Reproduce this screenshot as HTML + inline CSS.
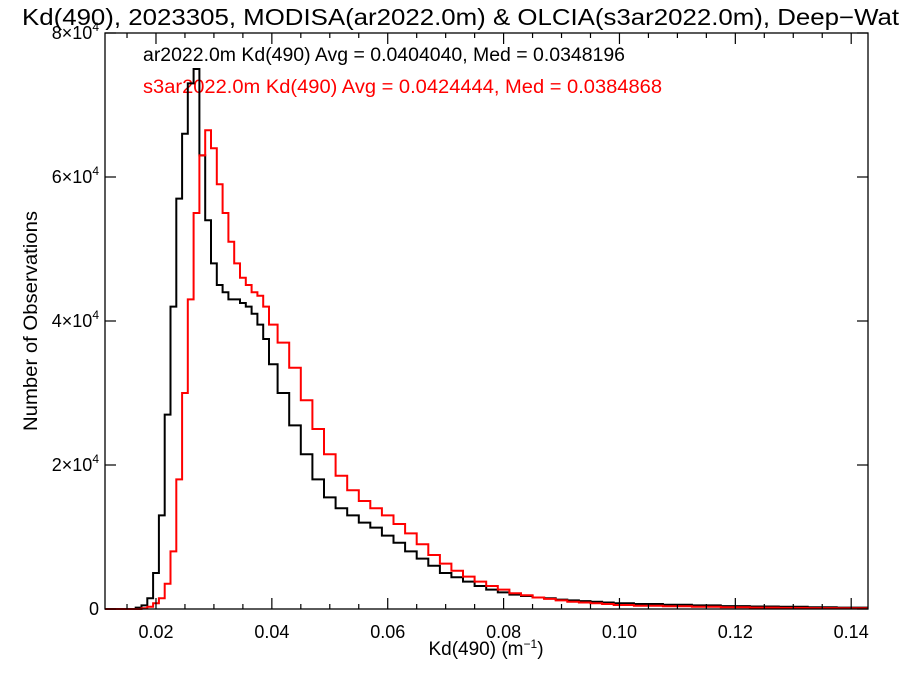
<!DOCTYPE html>
<html><head><meta charset="utf-8">
<style>
html,body{margin:0;padding:0;background:#fff;width:900px;height:675px;overflow:hidden}
svg{display:block;font-family:"Liberation Sans",Arial,sans-serif}
</style></head>
<body>
<svg id="chart" width="900" height="675">
<text x="22" y="25" font-size="23" fill="#000" textLength="900" lengthAdjust="spacingAndGlyphs">Kd(490), 2023305, MODISA(ar2022.0m) &amp; OLCIA(s3ar2022.0m), Deep−Water</text>
<text x="143" y="61" font-size="19" fill="#000" textLength="482" lengthAdjust="spacingAndGlyphs">ar2022.0m Kd(490) Avg = 0.0404040, Med = 0.0348196</text>
<text x="143" y="93" font-size="19" fill="#ff0000" textLength="519" lengthAdjust="spacingAndGlyphs">s3ar2022.0m Kd(490) Avg = 0.0424444, Med = 0.0384868</text>
<text transform="translate(37,321) rotate(-90)" text-anchor="middle" font-size="19" textLength="220" lengthAdjust="spacingAndGlyphs">Number of Observations</text>
<text x="486" y="655" text-anchor="middle" font-size="19">Kd(490) (m<tspan font-size="12" dy="-7">−1</tspan><tspan dy="7">)</tspan></text>
<g id="marks"></g>
<g id="axes"></g>
</svg>
<script>
const binEdges = [0.011,
0.0155,0.0165,0.0175,0.0185,0.0195,0.0205,0.0215,0.0225,0.0235,0.0245,0.0255,0.0265,0.0275,0.0285,0.0295,0.0305,0.0315,0.0325,0.0335,0.0345,0.0355,0.0365,0.0375,0.0385,0.0395,
0.041,0.043,0.045,0.047,0.049,0.051,0.053,0.055,0.057,0.059,0.061,0.063,0.065,0.067,0.069,0.071,0.073,0.075,0.077,0.079,0.081,0.083,0.085,0.087,0.089,0.091,0.093,0.095,0.097,0.099,
0.1025,0.1075,0.1125,0.1175,0.1225,0.1275,0.1325,0.1375,0.145];
const countsModis = [0,
0,0.2,0.5,1.5,5,13,27,42,57,66,73,75,63,54,48,45,44,43,43,42.5,42,41,39.5,37.5,
34,30,25.5,21.5,18,15.5,14,13,12,11.3,10.2,9.2,8,7,6,5,4.4,3.8,3.2,2.7,2.3,2.0,1.8,1.6,1.5,1.3,1.2,1.1,1.0,0.9,
0.8,0.7,0.6,0.5,0.4,0.35,0.3,0.25,0.2];
const countsOlci = [0,
0,0,0.1,0.3,0.8,1.5,3.5,8,18,30,43,55,63,66.5,64,59,55,51,48,46,45,44,43.5,42,
39.5,37,33.5,29,25,21.5,18.5,16.5,15,14,13,11.8,10.5,9,7.5,6.3,5.3,4.5,3.8,3.2,2.7,2.2,1.9,1.6,1.4,1.2,1.0,0.9,0.8,0.7,
0.55,0.45,0.38,0.3,0.25,0.2,0.15,0.12,0.1];
const xTickValues = [0.02,0.04,0.06,0.08,0.10,0.12,0.14];
const xTickLabels = ["0.02","0.04","0.06","0.08","0.10","0.12","0.14"];
const yTickValues = [0,20000,40000,60000,80000];
const yTickMant = ["0","2","4","6","8"];

const L=105,R=868,T=33,B=609;
const XMIN=0.0112,XMAX=0.1429,YMAX=80000;
const xs=v=>L+(v-XMIN)/(XMAX-XMIN)*(R-L);
const ys=v=>B-v/YMAX*(B-T);
const NS="http://www.w3.org/2000/svg";
const marks=document.getElementById('marks'),axes=document.getElementById('axes');

function stepPath(counts){
  let d="";
  for(let i=0;i<counts.length;i++){
    const x0=Math.max(xs(binEdges[i]),L),x1=Math.min(xs(binEdges[i+1]),R);
    if(x0>=R) break;
    const y=ys(counts[i]*1000);
    d+=(i===0?"M":"L")+x0.toFixed(1)+","+y.toFixed(1)+"L"+x1.toFixed(1)+","+y.toFixed(1);
  }
  return d;
}
const pb=document.createElementNS(NS,'path');
pb.setAttribute('d',stepPath(countsModis));pb.setAttribute('fill','none');pb.setAttribute('stroke','#000');pb.setAttribute('stroke-width','2');


marks.appendChild(pb);
const pr=document.createElementNS(NS,'path');
pr.setAttribute('d',stepPath(countsOlci));pr.setAttribute('fill','none');pr.setAttribute('stroke','#ff0000');pr.setAttribute('stroke-width','2');


marks.appendChild(pr);

const frame=document.createElementNS(NS,'rect');
frame.setAttribute('x',L);frame.setAttribute('y',T);frame.setAttribute('width',R-L);frame.setAttribute('height',B-T);
frame.setAttribute('fill','none');frame.setAttribute('stroke','#000');frame.setAttribute('stroke-width','1.3');


axes.appendChild(frame);

function line(x1,y1,x2,y2){
  const l=document.createElementNS(NS,'line');
  l.setAttribute('x1',x1);l.setAttribute('y1',y1);l.setAttribute('x2',x2);l.setAttribute('y2',y2);
  l.setAttribute('stroke','#000');l.setAttribute('stroke-width','1.2');
  
  
  axes.appendChild(l);
}
for(let v=0.015;v<=XMAX;v+=0.005){
  const x=xs(v);if(x<L||x>R)continue;
  const major=Math.abs(v/0.02-Math.round(v/0.02))<1e-6;
  const len=major?11:5;
  line(x,B,x,B-len);line(x,T,x,T+len);
}
xTickValues.forEach((v,i)=>{
  const t=document.createElementNS(NS,'text');
  t.setAttribute('x',xs(v));t.setAttribute('y',B+29);t.setAttribute('text-anchor','middle');t.setAttribute('font-size','18');
  t.textContent=xTickLabels[i];
  
  
  axes.appendChild(t);
});
yTickValues.forEach((v,i)=>{
  const y=ys(v);
  line(L,y,L+11,y);line(R,y,R-11,y);
  const t=document.createElementNS(NS,'text');
  t.setAttribute('x',99);t.setAttribute('y',y+6);t.setAttribute('text-anchor','end');t.setAttribute('font-size','18');
  if(v===0){t.textContent='0';}
  else{
    t.textContent=yTickMant[i]+'×10';
    const s=document.createElementNS(NS,'tspan');
    s.setAttribute('font-size','12');s.setAttribute('dy','-8');s.textContent='4';
    t.appendChild(s);
  }
  
  
  axes.appendChild(t);
});
</script>
</body></html>
